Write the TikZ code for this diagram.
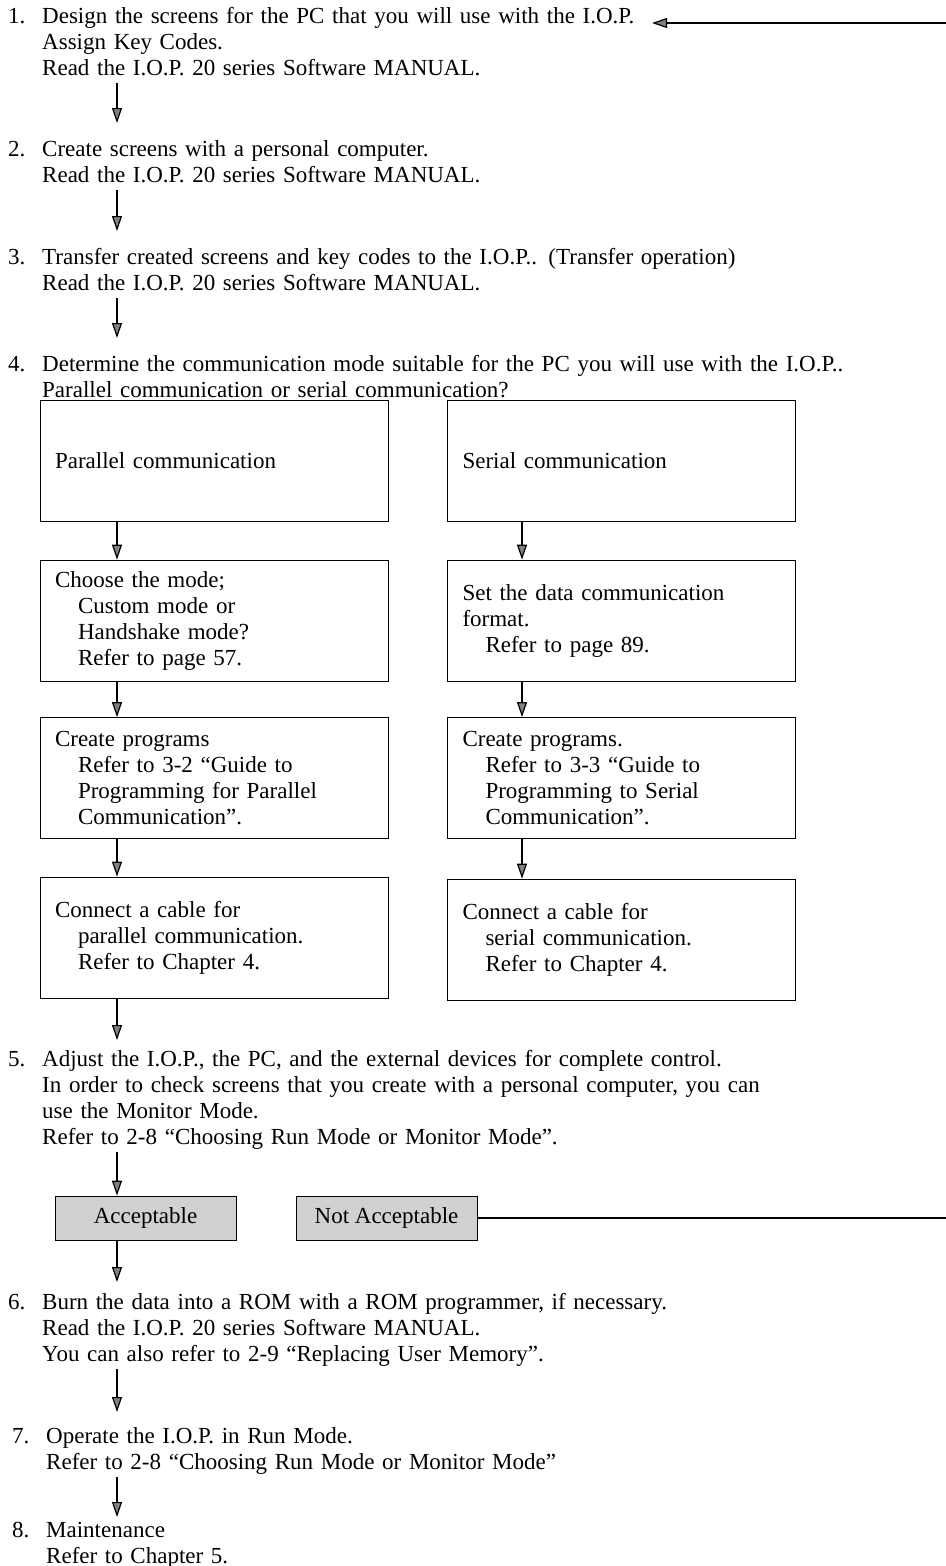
\documentclass[tikz,border=0pt]{standalone}
\usepackage{fontspec}
\setmainfont{Liberation Serif}
\usetikzlibrary{arrows.meta,positioning}

\newcommand{\numbox}[1]{\makebox[34pt][l]{#1}}
\newcommand{\stepind}{\hspace*{34pt}}
\newcommand{\subind}{\hspace*{23pt}}

\begin{document}
\begin{tikzpicture}[
    x=1pt, y=-1pt,
    font=\fontsize{23}{26}\selectfont,
    flow/.style={-{Triangle[length=15pt, width=10pt, fill=black!50]}, line width=1.2pt},
    stepitem/.style={anchor=north west, inner sep=0pt, text width=920pt, align=left},
    card/.style={draw, line width=0.8pt, minimum width=348pt, minimum height=121pt, text width=318pt, inner xsep=15pt, align=left},
    verdict/.style={draw, line width=0.8pt, fill=black!18, minimum width=181pt, minimum height=44pt, inner sep=0pt}
]
\useasboundingbox (0,0) rectangle (945,1566);

% numbered steps
\node[stepitem] (s1) at (8,5) {\strut\numbox{1.}Design the screens for the PC that you will use with the I.O.P.\\
  \stepind Assign Key Codes.\\
  \stepind Read the I.O.P. 20 series Software MANUAL.\strut};
\node[stepitem] (s2) at (8,138) {\strut\numbox{2.}Create screens with a personal computer.\\
  \stepind Read the I.O.P. 20 series Software MANUAL.\strut};
\node[stepitem] (s3) at (8,246) {\strut\numbox{3.}Transfer created screens and key codes to the I.O.P.. (Transfer operation)\\
  \stepind Read the I.O.P. 20 series Software MANUAL.\strut};
\node[stepitem] (s4) at (8,353) {\strut\numbox{4.}Determine the communication mode suitable for the PC you will use with the I.O.P..\\
  \stepind Parallel communication or serial communication?\strut};

% parallel branch
\node[card] (p1) at (214,460.5) {Parallel communication};
\node[card] (p2) at (214,620.5) {Choose the mode;\\
  \subind Custom mode or\\
  \subind Handshake mode?\\
  \subind Refer to page 57.};
\node[card] (p3) at (214,778) {Create programs\\
  \subind Refer to 3-2 ``Guide to\\
  \subind Programming for Parallel\\
  \subind Communication''.};
\node[card] (p4) at (214,937.5) {Connect a cable for\\
  \subind parallel communication.\\
  \subind Refer to Chapter 4.};

% serial branch
\node[card] (r1) at (621.5,460.5) {Serial communication};
\node[card] (r2) at (621.5,620.5) {Set the data communication\\
  format.\\
  \subind Refer to page 89.};
\node[card] (r3) at (621.5,778) {Create programs.\\
  \subind Refer to 3-3 ``Guide to\\
  \subind Programming to Serial\\
  \subind Communication''.};
\node[card] (r4) at (621.5,939.5) {Connect a cable for\\
  \subind serial communication.\\
  \subind Refer to Chapter 4.};

\node[stepitem] (s5) at (8,1048) {\strut\numbox{5.}Adjust the I.O.P., the PC, and the external devices for complete control.\\
  \stepind In order to check screens that you create with a personal computer, you can\\
  \stepind use the Monitor Mode.\\
  \stepind Refer to 2-8 ``Choosing Run Mode or Monitor Mode''.\strut};

\node[verdict] (ok) at (145.5,1218) {Acceptable};
\node[verdict] (ng) at (386.5,1218) {Not Acceptable};

\node[stepitem] (s6) at (8,1291) {\strut\numbox{6.}Burn the data into a ROM with a ROM programmer, if necessary.\\
  \stepind Read the I.O.P. 20 series Software MANUAL.\\
  \stepind You can also refer to 2-9 ``Replacing User Memory''.\strut};
\node[stepitem] (s7) at (12,1425) {\strut\numbox{7.}Operate the I.O.P. in Run Mode.\\
  \stepind Refer to 2-8 ``Choosing Run Mode or Monitor Mode''\strut};
\node[stepitem] (s8) at (12,1519) {\strut\numbox{8.}Maintenance\\
  \stepind Refer to Chapter 5.};

% columns for the arrows
\coordinate (colL) at (117,0);
\coordinate (colR) at (522,0);
\coordinate (edgeLow) at (950,1218);
\coordinate (edgeTop) at (950,23);
\coordinate (backTip) at (652,23);

\foreach \a/\b in {s1/s2, s2/s3, s3/s4}
  \draw[flow, shorten >=15pt] (\a.south -| colL) -- (\b.north -| colL);
\foreach \a/\b in {p1/p2, p2/p3, p3/p4}
  \draw[flow] (\a.south -| colL) -- (\b.north -| colL);
\foreach \a/\b in {r1/r2, r2/r3, r3/r4}
  \draw[flow] (\a.south -| colR) -- (\b.north -| colR);
\draw[flow, shorten >=8pt] (p4.south -| colL) -- (s5.north -| colL);
\draw[flow] (s5.south -| colL) -- (ok.north -| colL);
\draw[flow, shorten >=9pt] (ok.south -| colL) -- (s6.north -| colL);
\draw[flow, shorten >=13pt] (s6.south -| colL) -- (s7.north -| colL);
\draw[flow, shorten >=2pt] (s7.south -| colL) -- (s8.north -| colL);

% back to step 1
\draw[line width=1.2pt] (ng.east) -- (edgeLow) -- (edgeTop);
\draw[flow] (edgeTop) -- (backTip);
\end{tikzpicture}
\end{document}
